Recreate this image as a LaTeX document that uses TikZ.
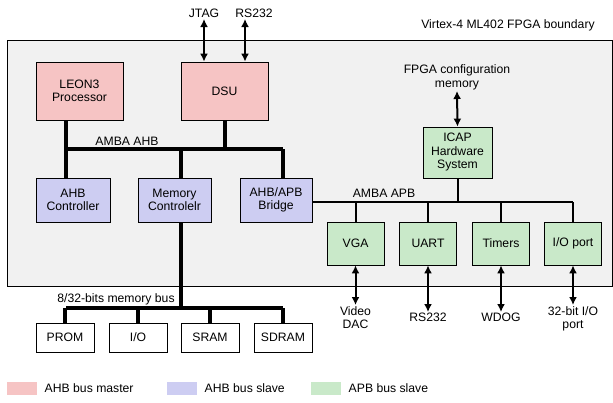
\documentclass[tikz,border=0pt]{standalone}
\usepackage{fontspec}
\setmainfont{Liberation Sans}
\usepackage{tikz}
\usetikzlibrary{positioning, arrows.meta}

\definecolor{mastercol}{HTML}{F6C4C4}
\definecolor{slavecol}{HTML}{CDCDF2}
\definecolor{apbcol}{HTML}{C9E9C9}
\definecolor{fpgacol}{HTML}{F1F1F1}

\begin{document}
\begin{tikzpicture}[x=1pt, y=-1pt,
    font=\fontsize{12.2}{13.5}\selectfont,
    box/.style={draw, line width=0.8pt, align=center, inner sep=0pt},
    master/.style={box, fill=mastercol, minimum width=87, minimum height=58},
    ahbslave/.style={box, fill=slavecol, minimum width=73, minimum height=44},
    apbslave/.style={box, fill=apbcol, minimum width=57, minimum height=43},
    membox/.style={box, fill=white, minimum width=58, minimum height=29},
    ahbbus/.style={line width=3.6pt},
    apbbus/.style={line width=2pt},
    io/.style={line width=2pt, {Latex[length=8pt,width=8pt]}-{Latex[length=8pt,width=8pt]}},
    lbl/.style={align=center, inner sep=1pt}]
    \useasboundingbox (0,0) rectangle (613,402);

    % Draw FPGA boundary
    \draw[fill=fpgacol, line width=0.8pt] (7,40) rectangle (612,286);
    \node (fpga) at (508,25) {Virtex-4 ML402 FPGA boundary};

    % Bus masters
    \node[master] (leon) at (79.5,91) {LEON3\\Processor};
    \node[master] (dsu) at (224.5,91) {DSU};
    \node[lbl, anchor=south] (jtag) at (204,19) {JTAG};
    \node[lbl, anchor=south] (rsdsu) at (254,19) {RS232};
    \draw[io] (jtag.south) -- (jtag.south |- dsu.north);
    \draw[io] ([xshift=-9pt]rsdsu.south) -- ([xshift=-9pt]rsdsu.south |- dsu.north);

    % AHB slaves
    \node[ahbslave, minimum width=74] (ahbc) at (73,200) {AHB\\Controller};
    \node[ahbslave] (memc) at (174.5,200) {Memory\\Controlelr};
    \node[ahbslave, minimum width=72] (bridge) at (276,200) {AHB/APB\\Bridge};

    % Draw AMBA AHB
    \coordinate (ahbL) at (66,149);
    \coordinate (ahbR) at (283,149);
    \coordinate (ahbD) at (225,149);
    \coordinate (ahbM) at (181,149);
    \draw[ahbbus] (ahbL) -- (ahbR);
    \node[above=0pt of ahbL, xshift=61pt] (ahblbl) {AMBA AHB};
    \draw[ahbbus] (leon.south -| ahbL) -- (ahbL) -- (ahbc.north -| ahbL);
    \draw[ahbbus] (dsu.south -| ahbD) -- (ahbD);
    \draw[ahbbus] (ahbM) -- (memc.north -| ahbM);
    \draw[ahbbus] (ahbR) -- (bridge.north -| ahbR);

    % Memory bus and devices
    \coordinate (memL) at (66,308);
    \coordinate (memR) at (283,308);
    \coordinate (memJ) at (181,308);
    \draw[ahbbus] (memc.south -| memJ) -- (memJ);
    \draw[ahbbus] (memL) -- (memR);
    \node (memlbl) at (116,299) {8/32-bits memory bus};
    \foreach \n/\x/\t in {prom/65/{PROM}, mio/138/{I/O}, sram/210/{SRAM}, sdram/283/{SDRAM}} {
      \node[membox] (\n) at (\x,337.5) {\t};
      \draw[ahbbus] (\n.north) -- (\n.north |- memL);
    }

    % ICAP and configuration memory
    \node[apbslave, minimum width=69, minimum height=51] (icap) at (457.5,152.5) {ICAP\\Hardware\\System};
    \node[lbl, anchor=south] (cfg) at (457,91) {FPGA configuration\\memory};
    \draw[io] (cfg.south) -- (icap.north);

    % Draw AMBA APB
    \coordinate (apbL) at (312,202);
    \coordinate (apbR) at (573,202);
    \draw[apbbus] (bridge.east |- apbL) -- (apbR);
    \node (apblbl) at (384,193) {AMBA APB};
    \draw[apbbus] (icap.south) -- (icap.south |- apbL);

    % APB slaves with their external ports
    \foreach \n/\x/\t/\e/\y in {vga/355.5/{VGA}/{Video\\DAC}/305, uart/428/{UART}/{RS232}/312,
                               timer/501/{Timers}/{WDOG}/312, gpio/573/{I/O port}/{32-bit I/O\\port}/305} {
      \node[apbslave] (\n) at (\x,243.5) {\t};
      \draw[apbbus] (\n.north) -- (\n.north |- apbL);
      \node[lbl, anchor=north] (\n ext) at (\x,\y) {\e};
      \draw[io] (\n.south) -- (\n ext.north);
    }

    % Legend
    \foreach \n/\x/\c/\t in {lgm/22/mastercol/{AHB bus master}, lgs/182/slavecol/{AHB bus slave}, lga/326/apbcol/{APB bus slave}} {
      \node[fill=\c, minimum width=30, minimum height=13, inner sep=0pt] (\n) at (\x,388.5) {};
      \node[right=4pt of \n] (\n txt) {\t};
    }
\end{tikzpicture}
\end{document}
